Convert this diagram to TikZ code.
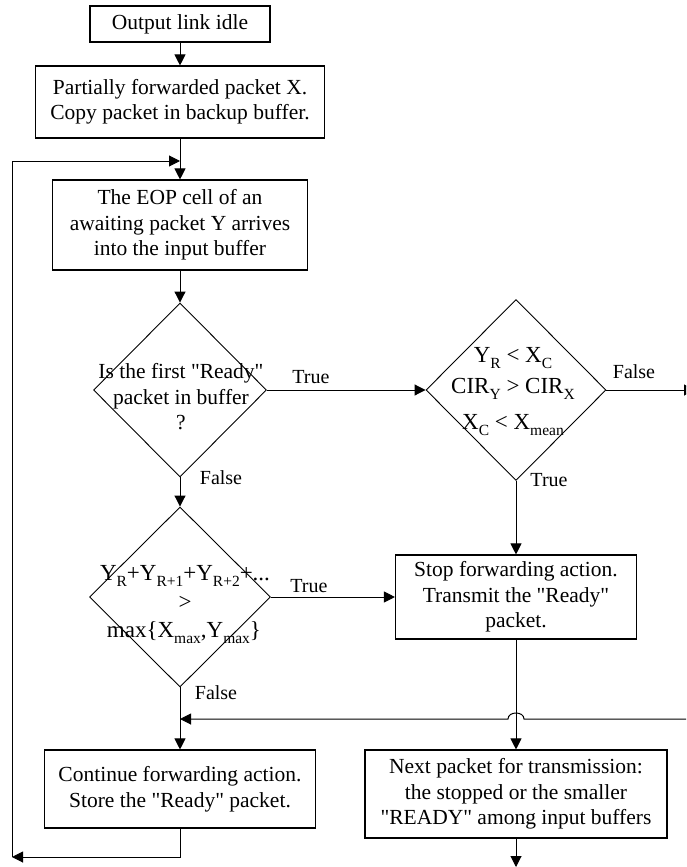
\documentclass[tikz,border=0pt]{standalone}
\usepackage{fontspec}
\setmainfont{Liberation Serif}[Ligatures=TeXOff]
\usetikzlibrary{shapes.geometric,arrows.meta}
\newcommand{\sbx}[1]{\raisebox{-6pt}{\fontsize{15.5}{15.5}\selectfont #1}}
\begin{document}
\begin{tikzpicture}[x=1pt,y=-1pt,
 box/.style={draw,line width=1.1pt,rectangle,inner sep=0pt,align=center,font=\fontsize{21.5}{25.5}\selectfont},
 dia/.style={draw,line width=0.9pt,diamond,inner sep=0pt},
 dtext/.style={align=center,font=\fontsize{21.5}{25.5}\selectfont,inner sep=0pt},
 mline/.style={anchor=base,font=\fontsize{23}{27}\selectfont,inner sep=0pt},
 lbl/.style={font=\fontsize{20}{24}\selectfont,inner sep=0pt},
 arr/.style={line width=1pt,-{Triangle[length=11pt,width=11pt]}}]
\useasboundingbox (0,0) rectangle (686,867);
\clip (0,0) rectangle (686,867);

\node[box,minimum width=180pt,minimum height=36pt] (b1) at (180,24) {Output link idle};
\node[box,minimum width=289pt,minimum height=72pt] (b2) at (180,102) {Partially forwarded packet X.\\Copy packet in backup buffer.};
\node[box,minimum width=255pt,minimum height=90pt] (b3) at (180,225) {The EOP cell of an\\awaiting packet Y arrives\\into the input buffer};

\node[dia,minimum width=173pt,minimum height=174pt] (d1) at (180,390) {};
\node[dtext] (d1t) at (181,397) {Is the first "Ready"\\packet in buffer\\?};

\node[dia,minimum width=180pt,minimum height=181pt] (d2) at (516,390) {};
\node[mline] (d2a) at (513,362) {Y\sbx{R} < X\sbx{C}};
\node[mline] (d2b) at (513,393) {CIR\sbx{Y} > CIR\sbx{X}};
\node[mline] (d2c) at (513,429) {X\sbx{C} < X\sbx{mean}};

\node[dia,minimum width=181pt,minimum height=180pt] (d3) at (180,597) {};
\node[mline] (d3a) at (185,580) {Y\sbx{R}+Y\sbx{R+1}+Y\sbx{R+2}+...};
\node[mline] (d3b) at (185,609) {>};
\node[mline] (d3c) at (184,637) {max\{X\sbx{max},Y\sbx{max}\}};

\node[box,minimum width=241pt,minimum height=84pt] (b4) at (516,597) {Stop forwarding action.\\Transmit the "Ready"\\packet.};
\node[box,minimum width=271pt,minimum height=78pt] (b5) at (180,789) {Continue forwarding action.\\Store the "Ready" packet.};
\node[box,minimum width=302pt,minimum height=88pt] (b6) at (516,794) {Next packet for transmission:\\the stopped or the smaller\\"READY" among input buffers};

\node[lbl] (t1) at (311,377) {True};
\node[lbl] (f1) at (221,478) {False};
\node[lbl] (f2) at (634,372) {False};
\node[lbl] (t2) at (549,480) {True};
\node[lbl] (t3) at (309,586) {True};
\node[lbl] (f3) at (216,693) {False};

\coordinate (lt) at (12,161);
\coordinate (lb) at (12,857);
\coordinate (j1) at (180,161);
\coordinate (fout) at (695,390);
\coordinate (rin) at (686,719);
\coordinate (j2) at (180,719);
\coordinate (hopR) at (524,719);
\coordinate (hopL) at (508,719);
\coordinate (bout) at (516,867);

\draw[arr] (b1) -- (b2);
\draw[arr] (b2) -- (b3);
\draw[arr] (lb) -- (lt) -- (j1);
\draw[arr] (b3) -- (d1);
\draw[arr] (d1) -- (d2);
\draw[arr] (d2) -- (fout);
\draw[arr] (d2) -- (b4);
\draw[arr] (d1) -- (d3);
\draw[arr] (d3) -- (b4);
\draw[arr] (d3) -- (b5);
\draw[arr] (rin) -- (hopR) .. controls +(0,-8) and +(0,-8) .. (hopL) -- (j2);
\draw[arr] (b4) -- (b6);
\draw[arr] (b6) -- (bout);
\draw[arr] (b5.south) |- (lb);
\end{tikzpicture}
\end{document}
